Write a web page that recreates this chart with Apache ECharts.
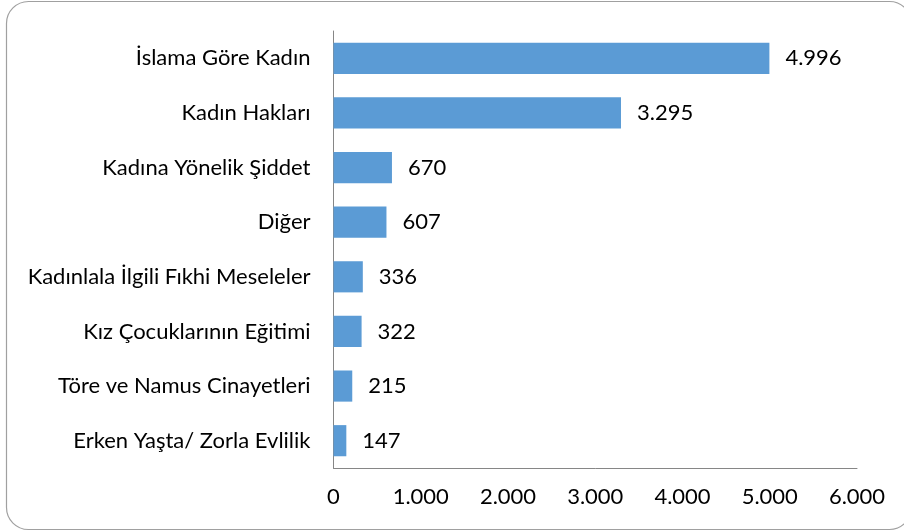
<!DOCTYPE html>
<html><head><meta charset="utf-8">
<script src="https://cdn.jsdelivr.net/npm/echarts@6/dist/echarts.min.js"></script>
<style>html,body{margin:0;padding:0;background:#fff}#c{width:904px;height:531px}</style>
</head><body><div id="c"></div>
<script>
const categories = ["İslama Göre Kadın","Kadın Hakları","Kadına Yönelik Şiddet","Diğer","Kadınlala İlgili Fıkhi Meseleler","Kız Çocuklarının Eğitimi","Töre ve Namus Cinayetleri","Erken Yaşta/ Zorla Evlilik"];
const values = [4996,3295,670,607,336,322,215,147];
const fmt = v => String(v).replace(/\B(?=(\d{3})+(?!\d))/g, ".");
const chart = echarts.init(document.getElementById('c'));
const font = 'Lato, "Open Sans", sans-serif';
chart.setOption({
  animation:false,
  graphic:[{type:'rect',shape:{x:6.5,y:1.5,width:905,height:528,r:22},style:{fill:'none',stroke:'#a0a0a0',lineWidth:1.2}}],
  grid:{left:333.5,right:47,top:31,bottom:63,containLabel:false},
  xAxis:{type:'value',min:0,max:6000,interval:1000,
    axisLine:{show:true,lineStyle:{color:'#868686'}},axisTick:{show:false},splitLine:{show:false},
    axisLabel:{formatter:fmt,color:'#000',fontFamily:font,fontSize:22,margin:18}},
  yAxis:{type:'category',data:categories,inverse:true,
    axisLine:{show:true,lineStyle:{color:'#868686'}},axisTick:{show:false},
    axisLabel:{color:'#000',fontFamily:font,fontSize:22,margin:23}},
  series:[{type:'bar',data:values,barWidth:'57%',itemStyle:{color:'#5B9BD5'},
    label:{show:true,position:'right',distance:16,formatter:p=>fmt(p.value),color:'#000',fontFamily:font,fontSize:22}}]
});
</script></body></html>
